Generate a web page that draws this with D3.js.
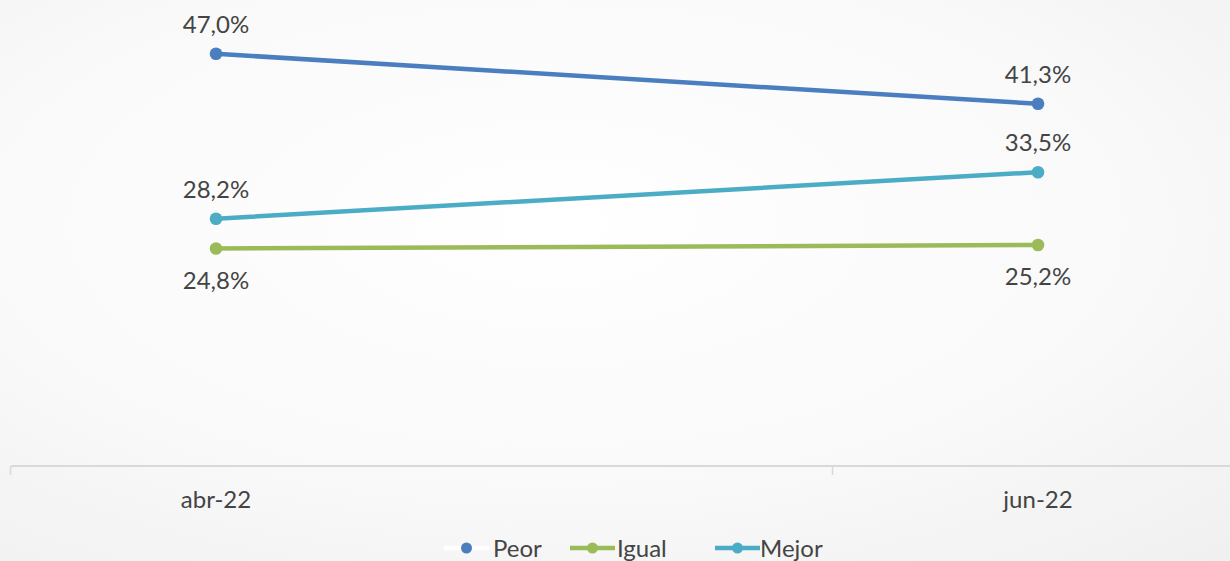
<!DOCTYPE html>
<html><head><meta charset="utf-8">
<script src="https://cdn.jsdelivr.net/npm/d3@7"></script>
<style>html,body{margin:0;padding:0;overflow:hidden;}svg{display:block;}</style>
</head><body>
<svg id="c" width="1230" height="561"></svg>
<script>
const categories = ["abr-22", "jun-22"];
const seriesNames = ["Peor", "Igual", "Mejor"];
const peor = [47.0, 41.3];
const igual = [24.8, 25.2];
const mejor = [28.2, 33.5];
const labelPos = { Peor: ["above", "above"], Igual: ["below", "below"], Mejor: ["above", "above"] };
const colors = { Peor: "#4a7ebf", Igual: "#9bbb59", Mejor: "#4bacc6" };
const series = [
  { name: "Peor", values: peor },
  { name: "Igual", values: igual },
  { name: "Mejor", values: mejor }
];

const W = 1230, H = 561;
const svg = d3.select("#c");
const defs = svg.append("defs");
const grad = defs.append("radialGradient").attr("id", "bg")
  .attr("cx", "45%").attr("cy", "40%").attr("r", "80%");
grad.append("stop").attr("offset", "0%").attr("stop-color", "#ffffff");
grad.append("stop").attr("offset", "60%").attr("stop-color", "#f9f9f9");
grad.append("stop").attr("offset", "100%").attr("stop-color", "#f0f0f0");
svg.append("rect").attr("width", W).attr("height", H).attr("fill", "url(#bg)");

const font = "Lato, 'Open Sans', sans-serif";
const textColor = "#444444";

const x = d3.scaleLinear().domain([0, 1]).range([216, 1038]);
const y = d3.scaleLinear().domain([0, 50]).range([466, 27.5]);

// axis
const axisY = y(0);
svg.append("line").attr("x1", 11).attr("x2", W).attr("y1", axisY).attr("y2", axisY)
  .attr("stroke", "#d9d9d9").attr("stroke-width", 2);
[-0.25, 0.75].forEach(t => {
  svg.append("line").attr("x1", x(t)).attr("x2", x(t)).attr("y1", axisY).attr("y2", axisY + 9)
    .attr("stroke", "#d9d9d9").attr("stroke-width", 1.5);
});
svg.selectAll("text.cat").data(categories).join("text").attr("class", "cat")
  .attr("x", (d, i) => x(i)).attr("y", 508).attr("text-anchor", "middle")
  .attr("font-family", font).attr("font-size", 24).attr("fill", textColor).text(d => d);

const line = d3.line().x((d, i) => x(i)).y(d => y(d));
const fmt = v => v.toFixed(1).replace(".", ",") + "%";

series.forEach(s => {
  const g = svg.append("g");
  g.append("path").datum(s.values).attr("d", line).attr("fill", "none")
    .attr("stroke", colors[s.name]).attr("stroke-width", 4.5).attr("stroke-linecap", "round");
  g.selectAll("circle").data(s.values).join("circle")
    .attr("cx", (d, i) => x(i)).attr("cy", d => y(d)).attr("r", 6.3).attr("fill", colors[s.name]);
  g.selectAll("text").data(s.values).join("text")
    .attr("x", (d, i) => x(i))
    .attr("y", (d, i) => labelPos[s.name][i] === "above" ? y(d) - 21 : y(d) + 40)
    .attr("text-anchor", "middle").attr("font-family", font).attr("font-size", 24)
    .attr("fill", textColor).text(d => fmt(d));
});

// legend
const legend = [
  { name: "Peor", lx: 444, tx: 493, lineColor: "#ffffff" },
  { name: "Igual", lx: 570, tx: 617, lineColor: colors.Igual },
  { name: "Mejor", lx: 715, tx: 760, lineColor: colors.Mejor }
];
const ly = 548;
legend.forEach(l => {
  svg.append("line").attr("x1", l.lx).attr("x2", l.lx + 45).attr("y1", ly).attr("y2", ly)
    .attr("stroke", l.lineColor).attr("stroke-width", 4.5);
  svg.append("circle").attr("cx", l.lx + 22.5).attr("cy", ly).attr("r", 5.5).attr("fill", colors[l.name]);
  svg.append("text").attr("x", l.tx).attr("y", 557).attr("font-family", font).attr("font-size", 24)
    .attr("fill", textColor).text(l.name);
});
</script>
</body></html>
